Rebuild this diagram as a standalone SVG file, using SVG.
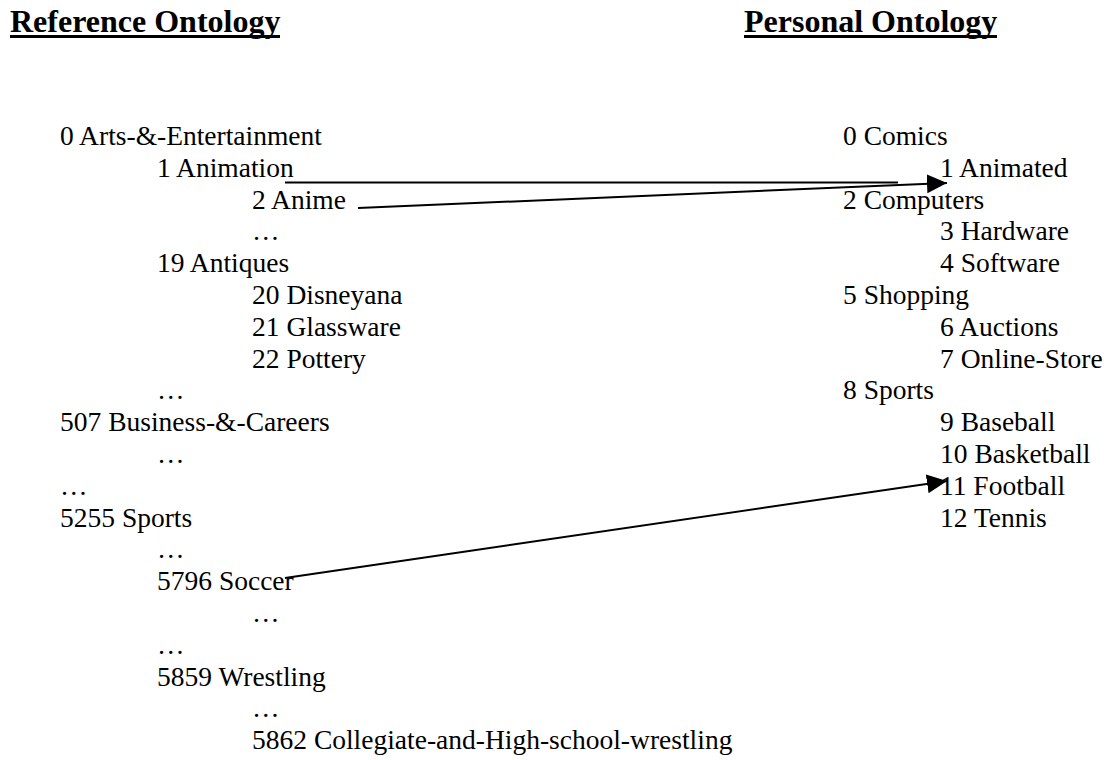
<svg xmlns="http://www.w3.org/2000/svg" width="1104" height="760" viewBox="0 0 1104 760">
<style>
text{font-family:"Liberation Serif","Times New Roman",serif;fill:#000}
.t{font-size:27.5px}
.h{font-size:32px;font-weight:bold}
.ul{stroke:#000;stroke-width:3}
.c{stroke:#000;stroke-width:2;fill:none}
</style>
<defs>
<marker id="ah" markerUnits="userSpaceOnUse" markerWidth="21" markerHeight="20" refX="20" refY="9.5" orient="auto" viewBox="0 0 21 20">
<path d="M0,0 L20,9.5 L0,19 z" fill="#000"/>
</marker>
</defs>
<g id="title-reference">
<text class="h" x="10" y="32">Reference Ontology</text>
<line class="ul" x1="10" y1="36.5" x2="280" y2="36.5"/>
</g>
<g id="title-personal">
<text class="h" x="744" y="32">Personal Ontology</text>
<line class="ul" x1="744" y1="36.5" x2="997" y2="36.5"/>
</g>
<g id="reference-ontology">
<g id="r0"><text class="t" x="60" y="145">0 Arts-&amp;-Entertainment</text></g>
<g id="r1"><text class="t" x="157" y="177">1 Animation</text></g>
<g id="r2"><text class="t" x="252" y="209">2 Anime</text></g>
<g id="r-e1"><text class="t" x="252" y="240">…</text></g>
<g id="r19"><text class="t" x="157" y="272">19 Antiques</text></g>
<g id="r20"><text class="t" x="252" y="304">20 Disneyana</text></g>
<g id="r21"><text class="t" x="252" y="336">21 Glassware</text></g>
<g id="r22"><text class="t" x="252" y="368">22 Pottery</text></g>
<g id="r-e2"><text class="t" x="157" y="399">…</text></g>
<g id="r507"><text class="t" x="60" y="431">507 Business-&amp;-Careers</text></g>
<g id="r-e3"><text class="t" x="157" y="463">…</text></g>
<g id="r-e4"><text class="t" x="60" y="495">…</text></g>
<g id="r5255"><text class="t" x="60" y="527">5255 Sports</text></g>
<g id="r-e5"><text class="t" x="157" y="558">…</text></g>
<g id="r5796"><text class="t" x="157" y="590">5796 Soccer</text></g>
<g id="r-e6"><text class="t" x="252" y="622">…</text></g>
<g id="r-e7"><text class="t" x="157" y="654">…</text></g>
<g id="r5859"><text class="t" x="157" y="686">5859 Wrestling</text></g>
<g id="r-e8"><text class="t" x="252" y="717">…</text></g>
<g id="r5862"><text class="t" x="252" y="749">5862 Collegiate-and-High-school-wrestling</text></g>
</g>
<g id="personal-ontology">
<g id="p0"><text class="t" x="843" y="145">0 Comics</text></g>
<g id="p1"><text class="t" x="940" y="177">1 Animated</text></g>
<g id="p2"><text class="t" x="843" y="209">2 Computers</text></g>
<g id="p3"><text class="t" x="940" y="240">3 Hardware</text></g>
<g id="p4"><text class="t" x="940" y="272">4 Software</text></g>
<g id="p5"><text class="t" x="843" y="304">5 Shopping</text></g>
<g id="p6"><text class="t" x="940" y="336">6 Auctions</text></g>
<g id="p7"><text class="t" x="940" y="368">7 Online-Store</text></g>
<g id="p8"><text class="t" x="843" y="399">8 Sports</text></g>
<g id="p9"><text class="t" x="940" y="431">9 Baseball</text></g>
<g id="p10"><text class="t" x="940" y="463">10 Basketball</text></g>
<g id="p11"><text class="t" x="940" y="495">11 Football</text></g>
<g id="p12"><text class="t" x="940" y="527">12 Tennis</text></g>
</g>
<g id="connectors">
<line class="c" x1="285" y1="182.5" x2="898" y2="182.5"/>
<line class="c" x1="358" y1="208" x2="947" y2="183" marker-end="url(#ah)"/>
<line class="c" x1="285" y1="578" x2="947" y2="481" marker-end="url(#ah)"/>
</g>
</svg>
